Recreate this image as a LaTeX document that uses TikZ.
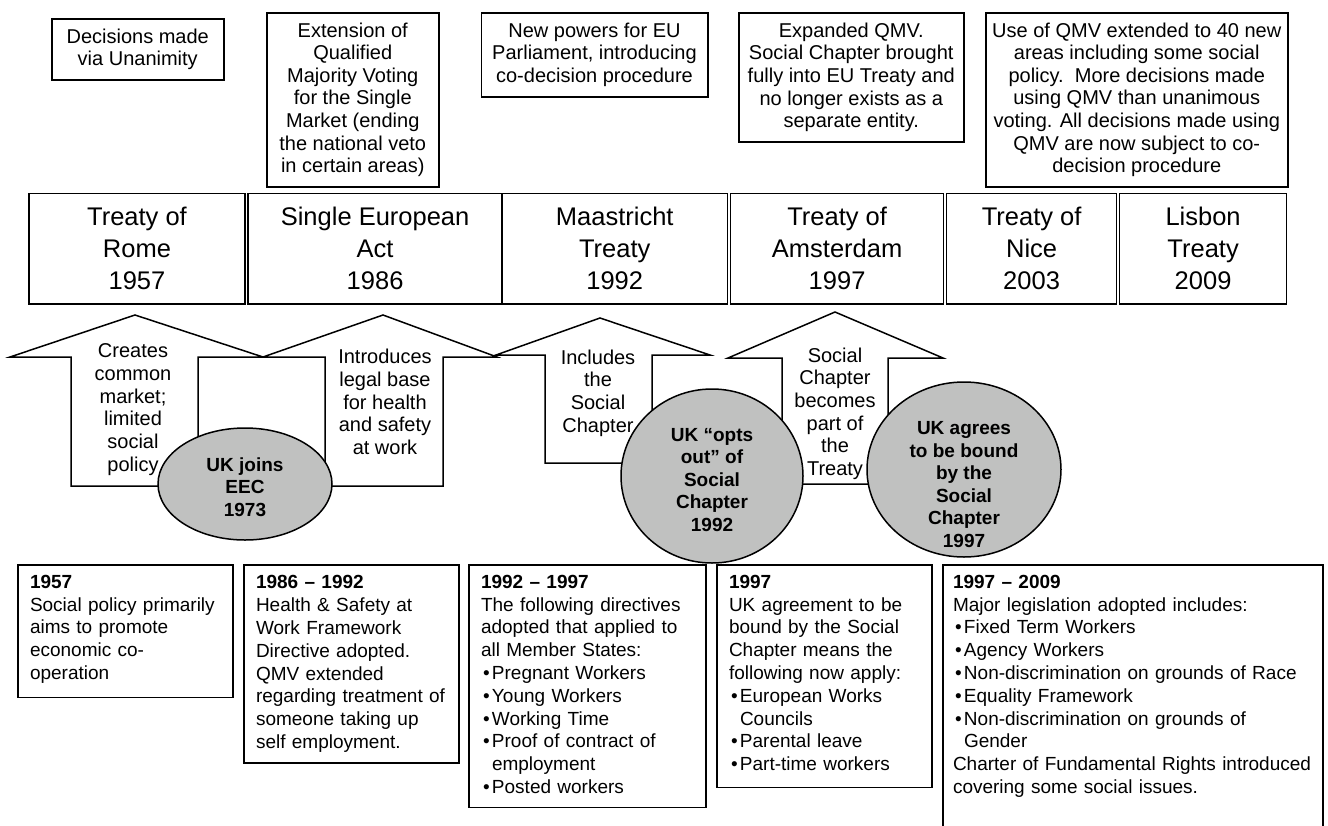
\documentclass[tikz,border=0pt]{standalone}
\usepackage{fontspec}
\setmainfont{Liberation Sans}
\usetikzlibrary{shapes.geometric, positioning, calc}

\definecolor{circgray}{RGB}{192,193,192}
\newcommand{\blt}{\makebox[11pt][l]{\hspace{2pt}•}}
\newcommand{\bltc}{\hspace*{11pt}}
\newcommand{\lastdepth}[1]{\rule[-#1]{0pt}{#1}}

\begin{document}
\begin{tikzpicture}[x=1pt, y=-1pt,
  topbox/.style={draw, line width=1.5pt, anchor=north west, inner sep=0pt, align=center, font=\fontsize{20}{22.6}\selectfont},
  treaty/.style={draw, line width=1.5pt, outer sep=0pt, minimum height=110.5pt, inner sep=0pt, align=center, font=\fontsize{25.5}{32}\selectfont},
  infobox/.style={draw, line width=1.5pt, outer sep=0pt, anchor=north west, align=left, inner xsep=12pt, inner ysep=10pt, font=\fontsize{19}{22.8}\selectfont},
  arrowtext/.style={anchor=north, align=center, inner sep=0pt, font=\fontsize{20}{22.7}\selectfont},
  blockarrow/.style={draw, line width=1.5pt, fill=white, line join=miter},
  ukcircle/.style={ellipse, draw, line width=1.5pt, fill=circgray, inner sep=0pt},
  circtext/.style={align=center, inner sep=0pt, font=\bfseries\fontsize{19}{22.5}\selectfont}]
\useasboundingbox (0,0) rectangle (1328,825);

% voting notes along the top
\node (unanimity) [topbox, minimum width=172pt, minimum height=61pt] at (51,18) {Decisions made\\via Unanimity};
\node (qmvsingle) [topbox, minimum width=172pt, minimum height=174pt] at (266,12) {Extension of\\Qualified\\Majority Voting\\for the Single\\Market (ending\\the national veto\\in certain areas)};
\node (codecision) [topbox, minimum width=226.5pt, minimum height=84pt] at (480.5,12) {New powers for EU\\Parliament, introducing\\co-decision procedure};
\node (expanded) [topbox, minimum width=225pt, minimum height=129pt] at (738,12) {Expanded QMV.\\Social Chapter brought\\fully into EU Treaty and\\no longer exists as a\\separate entity.};
\node (nicenote) [topbox, minimum width=302pt, minimum height=174pt] at (985,12) {Use of QMV extended to 40 new\\areas including some social\\policy.\ \ More decisions made\\using QMV than unanimous\\voting. All decisions made using\\QMV are now subject to co-\\decision procedure};

% treaties
\node (rome) [treaty, anchor=north west, minimum width=216pt] at (29,193.5) {Treaty of\\Rome\\1957};
\node (sea) [treaty, right=3.2pt of rome, minimum width=253.8pt] {Single European\\Act\\1986};
\node (maastricht) [treaty, right=0pt of sea, minimum width=225.5pt] {Maastricht\\Treaty\\1992};
\node (amsterdam) [treaty, right=3.2pt of maastricht, minimum width=212.8pt] {Treaty of\\Amsterdam\\1997};
\node (nice) [treaty, right=3.2pt of amsterdam, minimum width=169.8pt] {Treaty of\\Nice\\2003};
\node (lisbon) [treaty, right=3.2pt of nice, minimum width=166.8pt] {Lisbon\\Treaty\\2009};

% block arrows
\draw[blockarrow] (135,315) -- (263,357) -- (198,357) -- (198,486) -- (71,486) -- (71,357) -- (10,357) -- cycle;
\draw[blockarrow] (383,315) -- (497,357) -- (443,357) -- (443,486) -- (325,486) -- (325,357) -- (263,357) -- cycle;
\draw[blockarrow] (600,318) -- (710,355) -- (652,355) -- (652,463) -- (545,463) -- (545,355) -- (496,355) -- cycle;
\draw[blockarrow] (835,312) -- (943,358) -- (888,358) -- (888,484) -- (782,484) -- (782,358) -- (728,358) -- cycle;
\node (createsmkt) [arrowtext] at (133,343.5) {Creates\\common\\market;\\limited\\social\\policy};
\node (legalbase) [arrowtext] at (385,349) {Introduces\\legal base\\for health\\and safety\\at work};
\node (inclsc) [arrowtext] at (598,349.5) {Includes\\the\\Social\\Chapter};
\node (scpart) [arrowtext] at (835,347.5) {Social\\Chapter\\becomes\\part of\\the\\Treaty};

% UK events
\node (ukjoins) [ukcircle, minimum width=174pt, minimum height=112pt] at (245,484) {};
\node (ukjoinstxt) [circtext] at ($(ukjoins)+(0,3)$) {UK joins\\EEC\\1973};
\node (optout) [ukcircle, minimum width=182pt, minimum height=174pt] at (712,476) {};
\node (optouttxt) [circtext] at ($(optout)+(0,4)$) {UK “opts\\out” of\\Social\\Chapter\\1992};
\node (agree) [ukcircle, minimum width=194pt, minimum height=175pt] at (964,469.5) {};
\node (agreetxt) [circtext] at ($(agree)+(0,15)$) {UK agrees\\to be bound\\by the\\Social\\Chapter\\1997};

% social policy periods
\node (period57) [infobox, text width=191pt] at (18,565) {\textbf{1957}\\Social policy primarily\\aims to promote\\economic co-\\operation\lastdepth{8pt}};
\node (period86) [infobox, text width=191pt, minimum height=198pt, right=11pt of period57.north east, anchor=north west] {\textbf{1986 – 1992}\\Health \& Safety at\\Work Framework\\Directive adopted.\\QMV extended\\regarding treatment of\\someone taking up\\self employment.};
\node (period92) [infobox, text width=213pt, right=10pt of period86.north east, anchor=north west] {\textbf{1992 – 1997}\\The following directives\\adopted that applied to\\all Member States:\\\blt Pregnant Workers\\\blt Young Workers\\\blt Working Time\\\blt Proof of contract of\\\bltc employment\\\blt Posted workers\lastdepth{4pt}};
\node (period97) [infobox, text width=191pt, right=11pt of period92.north east, anchor=north west] {\textbf{1997}\\UK agreement to be\\bound by the Social\\Chapter means the\\following now apply:\\\blt European Works\\\bltc Councils\\\blt Parental leave\\\blt Part-time workers\lastdepth{7pt}};
\node (period09) [infobox, draw=none, inner xsep=10pt, text width=360pt, right=11pt of period97.north east, anchor=north west] {\textbf{1997 – 2009}\\Major legislation adopted includes:\\\blt Fixed Term Workers\\\blt Agency Workers\\\blt Non-discrimination on grounds of Race\\\blt Equality Framework\\\blt Non-discrimination on grounds of\\\bltc Gender\\Charter of Fundamental Rights introduced\\covering some social issues.};
\draw[line width=1.5pt] (period09.north west) rectangle ($(period09.north east)+(0,290)$);
\end{tikzpicture}
\end{document}
